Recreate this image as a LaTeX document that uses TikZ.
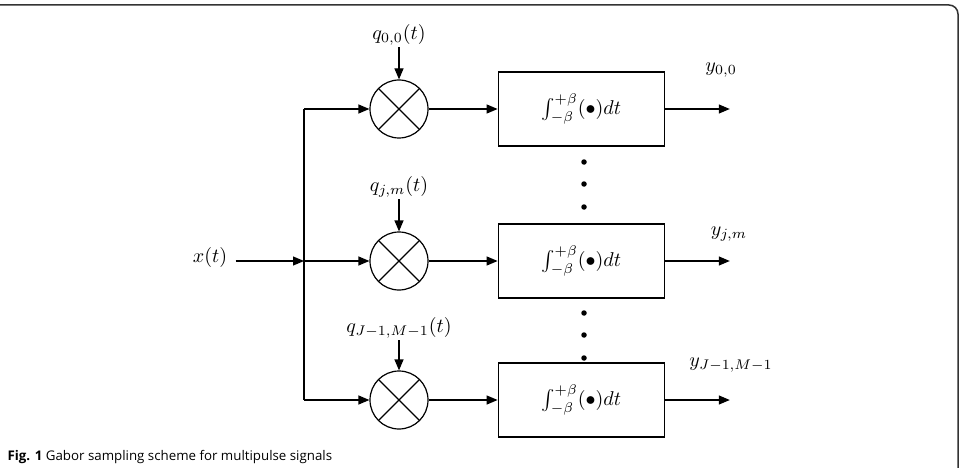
\documentclass[tikz,border=0pt]{standalone}
\usepackage{graphicx}
\usepackage{fontspec}
\newfontfamily\capfont{Open Sans}
\usetikzlibrary{arrows.meta,positioning}
\newcommand{\sig}[2][2]{\scalebox{#1}{$#2$}}

\begin{document}
\begin{tikzpicture}[x=1pt, y=-1pt,
    line width=1.2pt,
    node distance=32pt,
    mixer/.style={draw, circle, minimum size=58pt, inner sep=0pt,
    path picture={\draw (path picture bounding box.north west) -- (path picture bounding box.south east)
    (path picture bounding box.south west) -- (path picture bounding box.north east);}},
    box/.style={draw, minimum width=166pt, minimum height=74pt, inner sep=0pt},
    lbl/.style={inner sep=2pt},
    arr/.style={-{Triangle[length=11pt,width=9pt]}},
    dot/.style={circle, fill, inner sep=0pt, minimum size=5.5pt}
]
\useasboundingbox (0,0) rectangle (969,468);
% frame
\draw[line width=1.5pt, draw=black!80, rounded corners=9pt] (-5,5) -- (958,5) -- (958,480);

% mixers and integrators
\node[mixer] (mix0) at (399,109) {};
\node[mixer] (mixj) at (399,261) {};
\node[mixer] (mixJ) at (399,400) {};
\node[box, right=69pt of mix0] (int0) {\sig{\int_{-\beta}^{+\beta}(\bullet)dt}};
\node[box, right=69pt of mixj] (intj) {\sig{\int_{-\beta}^{+\beta}(\bullet)dt}};
\node[box, right=69pt of mixJ] (intJ) {\sig{\int_{-\beta}^{+\beta}(\bullet)dt}};

% modulating signals
\node[lbl, above=32pt of mix0] (q0) {\sig{q_{0,0}(t)}};
\node[lbl, above=32pt of mixj] (qj) {\sig{q_{j,m}(t)}};
\node[lbl, above=30pt of mixJ] (qJ) {\sig{q_{J-1,M-1}(t)}};
\draw[arr] (q0) -- (mix0);
\draw[arr] (qj) -- (mixj);
\draw[arr] (qJ) -- (mixJ);

% input bus
\node[lbl, inner sep=8pt] (xin) at (210,257) {\sig{x(t)}};
\coordinate (bus0) at (304,109);
\coordinate (busj) at (304,261);
\coordinate (busJ) at (304,400);
\draw (bus0) -- (busJ);
\draw[arr] (xin.east |- busj) -- (busj);
\draw[arr] (busj) -- (mixj);
\draw[arr] (bus0) -- (mix0);
\draw[arr] (busJ) -- (mixJ);
\draw[arr] (mix0) -- (int0);
\draw[arr] (mixj) -- (intj);
\draw[arr] (mixJ) -- (intJ);

% outputs
\coordinate[right=65pt of int0] (out0);
\coordinate[right=65pt of intj] (outj);
\coordinate[right=65pt of intJ] (outJ);
\draw[arr] (int0) -- (out0);
\draw[arr] (intj) -- (outj);
\draw[arr] (intJ) -- (outJ);
\node[lbl] (y0) at (721,70) {\sig{y_{0,0}}};
\node[lbl] (yj) at (729,234) {\sig{y_{j,m}}};
\node[lbl] (yJ) at (731,365) {\sig{y_{J-1,M-1}}};

% vertical dots
\foreach \yy in {162,184,207,313,335,358}
  \node[dot] (dot\yy) at (584,\yy) {};

% caption
\node[anchor=west, inner sep=0pt, font=\capfont\fontsize{13.3}{15}\selectfont] (cap) at (7,457)
  {\textbf{Fig. 1} Gabor sampling scheme for multipulse signals};
\end{tikzpicture}
\end{document}
